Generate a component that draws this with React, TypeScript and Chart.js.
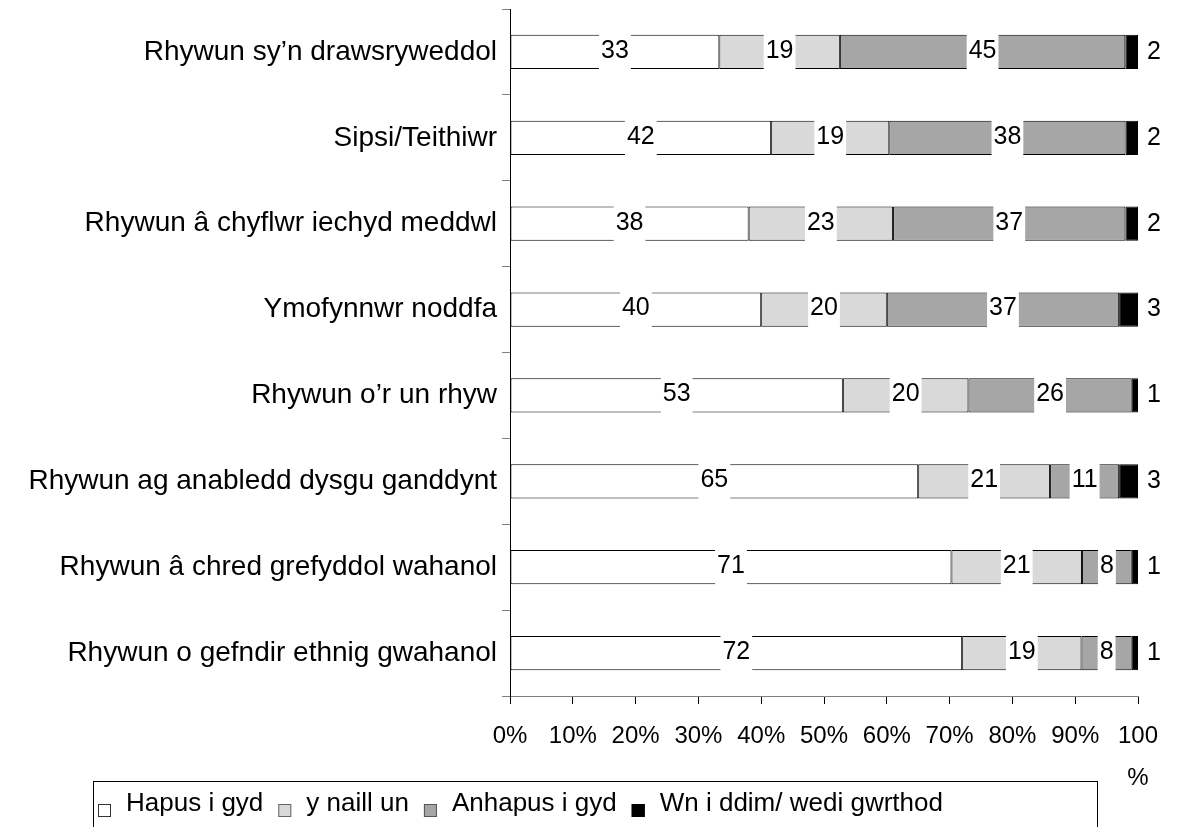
import React, { useEffect, useRef } from 'react';
import { Chart, registerables } from 'chart.js';

Chart.register(...registerables);

const FONT = "'Liberation Sans', Arial, Helvetica, sans-serif";

const categories = [
  'Rhywun sy’n drawsryweddol',
  'Sipsi/Teithiwr',
  'Rhywun â chyflwr iechyd meddwl',
  'Ymofynnwr noddfa',
  'Rhywun o’r un rhyw',
  'Rhywun ag anabledd dysgu ganddynt',
  'Rhywun â chred grefyddol wahanol',
  'Rhywun o gefndir ethnig gwahanol',
];

const seriesNames = ['Hapus i gyd', 'y naill un', 'Anhapus i gyd', 'Wn i ddim/ wedi gwrthod'];

const hapus = [33, 42, 38, 40, 53, 65, 71, 72];
const naill = [19, 19, 23, 20, 20, 21, 21, 19];
const anhapus = [45, 38, 37, 37, 26, 11, 8, 8];
const wnIDdim = [2, 2, 2, 3, 1, 3, 1, 1];

const xTickLabels: (string | string[])[] = [
  '0%', '10%', '20%', '30%', '40%', '50%', '60%', '70%', '80%', '90%', ['100', '%'],
];

const colors = ['#ffffff', '#d9d9d9', '#a6a6a6', '#000000'];
const legendStroke = ['#333333', '#666666', '#555555', '#000000'];

const rawSeries = [hapus, naill, anhapus, wnIDdim];
const totals = categories.map((_, i) => rawSeries.reduce((s, arr) => s + arr[i], 0));

const labelPlugin = {
  id: 'segLabels',
  afterDatasetsDraw(chart: any) {
    const ctx = chart.ctx;
    ctx.save();
    ctx.font = `25px ${FONT}`;
    ctx.textBaseline = 'middle';
    chart.data.datasets.forEach((_: any, di: number) => {
      const meta = chart.getDatasetMeta(di);
      const raw = rawSeries[di];
      meta.data.forEach((el: any, i: number) => {
        const { x, y, base, height } = el.getProps(['x', 'y', 'base', 'height'], true);
        const txt = String(raw[i]);
        const w = ctx.measureText(txt).width;
        if (di === rawSeries.length - 1) {
          ctx.textAlign = 'left';
          ctx.fillStyle = '#000';
          ctx.fillText(txt, Math.max(x, base) + 9, y);
        } else {
          const cx = (x + base) / 2;
          ctx.fillStyle = '#ffffff';
          ctx.fillRect(cx - w / 2 - 2, y - height / 2 - 1, w + 4, height + 2);
          ctx.textAlign = 'center';
          ctx.fillStyle = '#000';
          ctx.fillText(txt, cx, y - 1);
        }
      });
    });
    ctx.restore();
  },
};

const legendPlugin = {
  id: 'boxLegend',
  afterDraw(chart: any) {
    const ctx = chart.ctx;
    ctx.save();
    ctx.strokeStyle = '#000';
    ctx.lineWidth = 1;
    ctx.strokeRect(93.5, 781.5, 1004, 60);
    ctx.font = `26px ${FONT}`;
    ctx.textBaseline = 'alphabetic';
    ctx.textAlign = 'left';
    let x = 98;
    seriesNames.forEach((name, i) => {
      ctx.fillStyle = colors[i];
      ctx.fillRect(x, 804, 13, 13);
      ctx.strokeStyle = legendStroke[i];
      ctx.strokeRect(x + 0.5, 804.5, 12, 12);
      x += 13 + 15;
      ctx.fillStyle = '#000';
      ctx.fillText(name, x, 811);
      x += ctx.measureText(name).width + 15;
    });
    ctx.restore();
  },
};

export default function App() {
  const ref = useRef<HTMLCanvasElement>(null);

  useEffect(() => {
    if (!ref.current) return;
    Chart.defaults.font.family = FONT;
    const datasets = rawSeries.map((arr, di) => ({
      label: seriesNames[di],
      data: arr.map((v, i) => (v / totals[i]) * 100),
      backgroundColor: colors[di],
      borderColor: '#000000',
      borderWidth: 1,
      borderSkipped: false,
      barPercentage: 0.4,
      categoryPercentage: 1,
    }));
    const chart = new Chart(ref.current, {
      type: 'bar',
      data: { labels: categories, datasets },
      options: {
        indexAxis: 'y',
        responsive: false,
        animation: false,
        layout: { padding: { top: 9, right: 40, left: 0, bottom: 0 } },
        plugins: {
          legend: { display: false },
          tooltip: { enabled: false },
          title: { display: false },
        },
        scales: {
          x: {
            stacked: true,
            min: 0,
            max: 100,
            ticks: {
              stepSize: 10,
              autoSkip: false,
              maxRotation: 0,
              minRotation: 0,
              padding: 11,
              color: '#000',
              font: { size: 24, family: FONT, lineHeight: 1.75 },
              callback: (_v: any, i: number) => xTickLabels[i],
            },
            grid: {
              drawOnChartArea: false,
              drawTicks: true,
              tickLength: 8,
              color: '#000',
              tickColor: '#000',
            },
            border: { display: true, color: '#808080', width: 1 },
            afterFit: (s: any) => {
              s.height = 131;
            },
          },
          y: {
            stacked: true,
            ticks: {
              color: '#000',
              font: { size: 28, family: FONT },
              padding: 5,
              autoSkip: false,
            },
            grid: {
              drawOnChartArea: false,
              offset: true,
              tickLength: 8,
              color: '#808080',
              tickColor: '#808080',
            },
            border: { display: true, color: '#000', width: 1 },
            afterFit: (s: any) => {
              s.width = 510;
              s.paddingTop = 0;
              s.paddingBottom = 0;
            },
          },
        },
      } as any,
      plugins: [labelPlugin, legendPlugin],
    });
    return () => chart.destroy();
  }, []);

  return (
    <div style={{ position: 'absolute', left: 0, top: 0, width: 1178, height: 827, background: '#fff' }}>
      <canvas ref={ref} width={1178} height={827} style={{ display: 'block' }} />
    </div>
  );
}
